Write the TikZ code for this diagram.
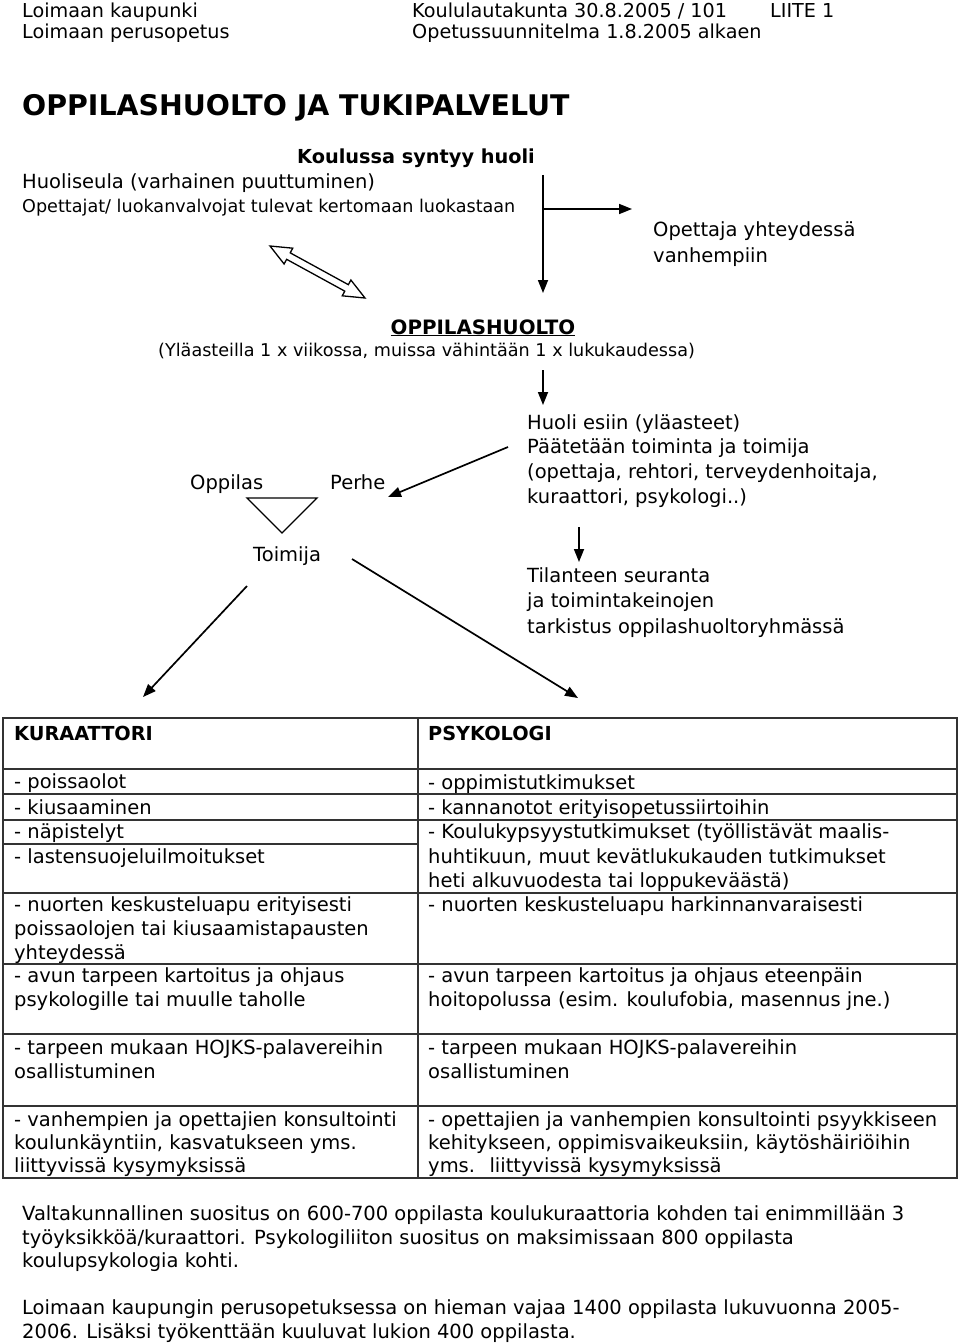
\documentclass[tikz,border=0pt]{standalone}
\usepackage{fontspec}
\setmainfont{DejaVu Sans}
\usetikzlibrary{arrows.meta}
\tikzset{
  txt/.style={anchor=base west, inner sep=0pt, font=\fontsize{19.5}{24}\selectfont},
  hdr/.style={anchor=base west, inner sep=0pt, font=\fontsize{19.2}{24}\selectfont},
  txtb/.style={anchor=base west, inner sep=0pt, font=\fontsize{19.3}{24}\selectfont\bfseries},
  smalltxt/.style={anchor=base west, inner sep=0pt, font=\fontsize{17.6}{21}\selectfont},
  titletxt/.style={anchor=base west, inner sep=0pt, font=\fontsize{28.4}{32}\selectfont\bfseries},
  conn/.style={line width=1.7pt, -{Triangle[length=13pt,width=10pt]}},
  tbl/.style={line width=1.6pt, black!80},
  hollow/.style={line width=1.3pt, fill=white, line join=miter}
}
\begin{document}
\begin{tikzpicture}[x=1pt,y=-1pt]
\useasboundingbox (0,0) rectangle (960,1343);
% header
\node[hdr] (h1) at (22,18) {Loimaan kaupunki};
\node[hdr] (h2) at (22,39) {Loimaan perusopetus};
\node[hdr] (h3) at (412,18) {Koululautakunta 30.8.2005 / 101};
\node[hdr] (h4) at (770,18) {LIITE 1};
\node[hdr] (h5) at (412,39) {Opetussuunnitelma 1.8.2005 alkaen};
\node[titletxt] (title) at (22,116) {OPPILASHUOLTO JA TUKIPALVELUT};
% upper flow
\node[txtb] (koul) at (297,164) {Koulussa syntyy huoli};
\node[txt] (seula) at (22,189) {Huoliseula (varhainen puuttuminen)};
\node[smalltxt] (opet) at (22,212) {Opettajat/ luokanvalvojat tulevat kertomaan luokastaan};
\node[txt] (yht1) at (653,236) {Opettaja yhteydessä};
\node[txt] (yht2) at (653,262) {vanhempiin};
\coordinate (v1a) at (543,175);
\coordinate (v1b) at (543,293);
\coordinate (v1m) at (543,209);
\coordinate (v1r) at (632,209);
\draw[conn] (v1a) -- (v1b);
\draw[conn] (v1m) -- (v1r);
% hollow double arrow
\begin{scope}[shift={(270,246)}, rotate=-28.7]
\draw[hollow] (0pt,0pt) -- (21pt,9pt) -- (21pt,3.7pt) -- (87.3pt,3.7pt) -- (87.3pt,9pt) -- (108.3pt,0pt)
  -- (87.3pt,-9pt) -- (87.3pt,-3.7pt) -- (21pt,-3.7pt) -- (21pt,-9pt) -- cycle;
\end{scope}
% oppilashuolto
\node[txtb, anchor=base, font=\fontsize{19.8}{24}\selectfont\bfseries] (oh) at (483,334) {\underline{OPPILASHUOLTO}};
\node[smalltxt] (yla) at (158,356) {(Yläasteilla 1 x viikossa, muissa vähintään 1 x lukukaudessa)};
\coordinate (d1a) at (543,370);
\coordinate (d1b) at (543,405);
\draw[conn] (d1a) -- (d1b);
\node[txt] (he1) at (527,429) {Huoli esiin (yläasteet)};
\node[txt] (he2) at (527,453) {Päätetään toiminta ja toimija};
\node[txt] (he3) at (527,478) {(opettaja, rehtori, terveydenhoitaja,};
\node[txt] (he4) at (527,503) {kuraattori, psykologi..)};
\node[txt] (opp) at (190,489) {Oppilas};
\node[txt] (perhe) at (330,489) {Perhe};
\coordinate (pa) at (508,447);
\coordinate (pb) at (388,497);
\draw[conn] (pa) -- (pb);
\draw[line width=1.3pt] (247,498) -- (317,498) -- (282,533) -- cycle;
\node[txt] (toim) at (253,561) {Toimija};
\coordinate (d2a) at (579,527);
\coordinate (d2b) at (579,562);
\draw[conn] (d2a) -- (d2b);
\node[txt] (til1) at (527,582) {Tilanteen seuranta};
\node[txt] (til2) at (527,607) {ja toimintakeinojen};
\node[txt] (til3) at (527,633) {tarkistus oppilashuoltoryhmässä};
\coordinate (la) at (247,586);
\coordinate (lb) at (143,697);
\coordinate (ra) at (352,559);
\coordinate (rb) at (578,698);
\draw[conn] (la) -- (lb);
\draw[conn] (ra) -- (rb);
% table
\draw[tbl] (3,718) rectangle (957,1178);
\draw[tbl] (418,718) -- (418,1178);
\foreach \yy in {769,794,820,893,964,1034,1106} \draw[tbl] (3,\yy) -- (957,\yy);
\draw[tbl] (3,844) -- (418,844);
\node[txtb] (kur) at (14,740) {KURAATTORI};
\node[txtb] (psy) at (428,740) {PSYKOLOGI};
\node[txt] (l1) at (14,788) {- poissaolot};
\node[txt] (l2) at (14,814) {- kiusaaminen};
\node[txt] (l3) at (14,838) {- näpistelyt};
\node[txt] (l4) at (14,863) {- lastensuojeluilmoitukset};
\node[txt] (l5) at (14,911) {- nuorten keskusteluapu erityisesti};
\node[txt] (l6) at (14,935) {poissaolojen tai kiusaamistapausten};
\node[txt] (l7) at (14,959) {yhteydessä};
\node[txt] (l8) at (14,982) {- avun tarpeen kartoitus ja ohjaus};
\node[txt] (l9) at (14,1006) {psykologille tai muulle taholle};
\node[txt] (l10) at (14,1054) {- tarpeen mukaan HOJKS-palavereihin};
\node[txt] (l11) at (14,1078) {osallistuminen};
\node[txt] (l12) at (14,1126) {- vanhempien ja opettajien konsultointi};
\node[txt] (l13) at (14,1149) {koulunkäyntiin, kasvatukseen yms.};
\node[txt] (l14) at (14,1172) {liittyvissä kysymyksissä};
\node[txt] (r1) at (428,789) {- oppimistutkimukset};
\node[txt] (r2) at (428,814) {- kannanotot erityisopetussiirtoihin};
\node[txt] (r3) at (428,838) {- Koulukypsyystutkimukset (työllistävät maalis-};
\node[txt] (r4) at (428,863) {huhtikuun, muut kevätlukukauden tutkimukset};
\node[txt] (r5) at (428,887) {heti alkuvuodesta tai loppukeväästä)};
\node[txt] (r6) at (428,911) {- nuorten keskusteluapu harkinnanvaraisesti};
\node[txt] (r7) at (428,982) {- avun tarpeen kartoitus ja ohjaus eteenpäin};
\node[txt] (r8) at (428,1006) {hoitopolussa (esim. koulufobia, masennus jne.)};
\node[txt] (r9) at (428,1054) {- tarpeen mukaan HOJKS-palavereihin};
\node[txt] (r10) at (428,1078) {osallistuminen};
\node[txt] (r11) at (428,1126) {- opettajien ja vanhempien konsultointi psyykkiseen};
\node[txt] (r12) at (428,1149) {kehitykseen, oppimisvaikeuksiin, käytöshäiriöihin};
\node[txt] (r13) at (428,1172) {yms.~ liittyvissä kysymyksissä};
% bottom text
\node[txt] (b1) at (22,1220) {Valtakunnallinen suositus on 600-700 oppilasta koulukuraattoria kohden tai enimmillään 3};
\node[txt] (b2) at (22,1244) {työyksikköä/kuraattori. Psykologiliiton suositus on maksimissaan 800 oppilasta};
\node[txt] (b3) at (22,1267) {koulupsykologia kohti.};
\node[txt] (b4) at (22,1314) {Loimaan kaupungin perusopetuksessa on hieman vajaa 1400 oppilasta lukuvuonna 2005-};
\node[txt] (b5) at (22,1338) {2006. Lisäksi työkenttään kuuluvat lukion 400 oppilasta.};
\end{tikzpicture}
\end{document}
